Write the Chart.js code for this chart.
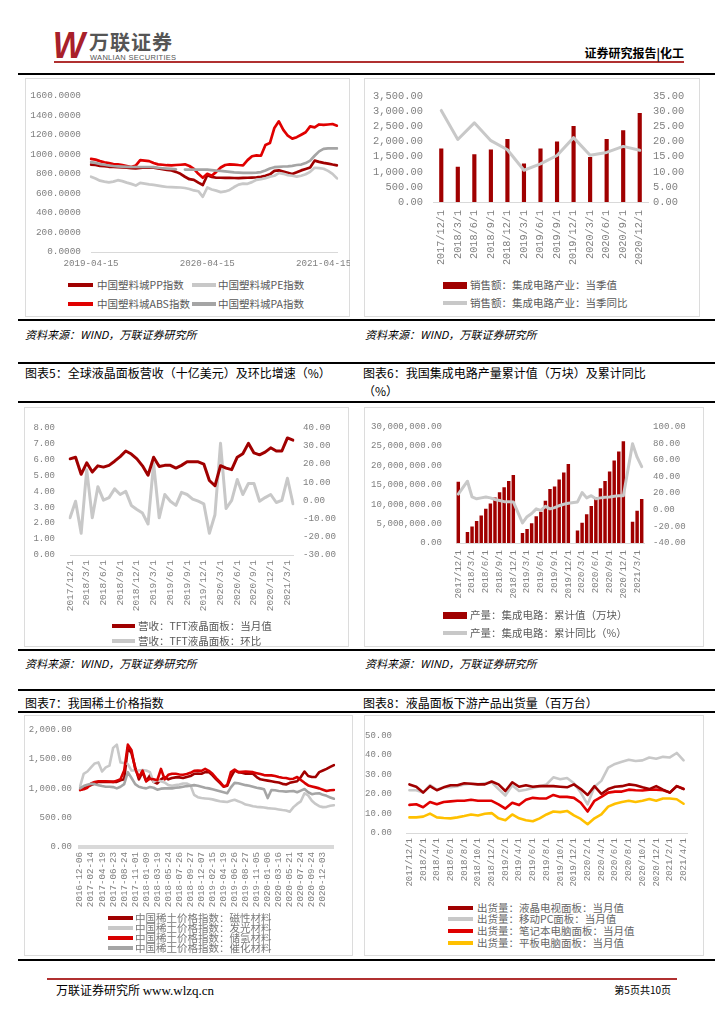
<!DOCTYPE html>
<html><head><meta charset="utf-8">
<script src="https://cdn.jsdelivr.net/npm/chart.js@4.4.1/dist/chart.umd.min.js"></script>
<style>
html,body{margin:0;padding:0;background:#fff;}
body{width:724px;height:1024px;position:relative;overflow:hidden;font-family:'Noto Sans CJK SC',sans-serif;}
.hl{position:absolute;left:18px;width:697px;height:2px;background:#000;}
.box{position:absolute;border:1px solid #dcdcdc;box-sizing:border-box;}
.cv{position:absolute;}
.title{position:absolute;font-size:12px;color:#000;line-height:18px;white-space:nowrap;}
.src{position:absolute;font-size:11px;font-style:italic;color:#000;white-space:nowrap;line-height:14px;}
.lg{position:absolute;font-size:10.5px;color:#595959;white-space:nowrap;line-height:12px;}
.sw{position:absolute;}
</style></head><body>

<!-- header -->
<div style="position:absolute;left:52px;top:28px;font-family:'Liberation Sans';font-weight:bold;font-style:italic;font-size:36px;color:#A8202A;line-height:36px;transform:scaleX(0.95);">W</div>
<div style="position:absolute;left:89px;top:30px;font-size:20px;font-weight:bold;color:#555;line-height:24px;letter-spacing:1px;">万联证券</div>
<div style="position:absolute;left:90px;top:54px;font-family:'Liberation Sans';font-size:7.5px;color:#555;line-height:8px;letter-spacing:0.3px;">WANLIAN SECURITIES</div>
<div style="position:absolute;left:54px;top:61px;width:630px;height:1.5px;background:#B03030;"></div>
<div style="position:absolute;right:40px;top:45px;font-size:12px;font-weight:bold;color:#000;line-height:16px;">证券研究报告|化工</div>

<div class="hl" style="top:73px;"></div>
<div class="box" style="left:25px;top:78px;width:325px;height:239px;"></div>
<div class="box" style="left:364px;top:78px;width:336px;height:239px;"></div>
<div class="hl" style="top:319px;"></div>
<div class="src" style="left:25px;top:327px;">资料来源：WIND，万联证券研究所</div>
<div class="src" style="left:365px;top:327px;">资料来源：WIND，万联证券研究所</div>

<div class="hl" style="top:362px;"></div>
<div class="title" style="left:25px;top:364px;">图表5：全球液晶面板营收（十亿美元）及环比增速（%）</div>
<div class="title" style="left:363px;top:364px;">图表6：我国集成电路产量累计值（万块）及累计同比<br>（%）</div>
<div class="hl" style="top:401px;"></div>
<div class="box" style="left:24px;top:407px;width:325px;height:240px;"></div>
<div class="box" style="left:364px;top:407px;width:340px;height:240px;"></div>
<div class="hl" style="top:649px;"></div>
<div class="src" style="left:25px;top:656px;">资料来源：WIND，万联证券研究所</div>
<div class="src" style="left:365px;top:656px;">资料来源：WIND，万联证券研究所</div>

<div class="hl" style="top:689px;"></div>
<div class="title" style="left:25px;top:694px;">图表7：我国稀土价格指数</div>
<div class="title" style="left:363px;top:694px;">图表8：液晶面板下游产品出货量（百万台）</div>
<div class="hl" style="top:711px;"></div>
<div class="box" style="left:24px;top:715px;width:329px;height:241px;"></div>
<div class="box" style="left:364px;top:715px;width:340px;height:241px;"></div>
<div class="hl" style="top:959px;"></div>

<!-- footer -->
<div style="position:absolute;left:47px;top:978px;width:630px;height:2px;background:#B03030;"></div>
<div style="position:absolute;left:56px;top:982px;font-size:12px;color:#000;line-height:16px;">万联证券研究所 <span style="font-family:'Liberation Serif';font-size:13px;">www.wlzq.cn</span></div>
<div style="position:absolute;right:53px;top:983px;font-size:10px;color:#000;line-height:14px;">第5页共10页</div>

<div class="cv" style="left:25px;top:80px;width:325px;height:195px;"><canvas id="c1"></canvas></div>
<div class="cv" style="left:365px;top:80px;width:334px;height:195px;"><canvas id="c2"></canvas></div>
<div class="cv" style="left:25px;top:407px;width:325px;height:213px;"><canvas id="c5"></canvas></div>
<div class="cv" style="left:365px;top:407px;width:338px;height:198px;"><canvas id="c6"></canvas></div>
<div class="cv" style="left:25px;top:716px;width:325px;height:196px;"><canvas id="c7"></canvas></div>
<div class="cv" style="left:365px;top:716px;width:338px;height:184px;"><canvas id="c8"></canvas></div>

<script>
// ---------- DATA ----------
// Chart 1: 中国塑料城指数 (bi-weekly samples from 2019-04-15)
const c1TickIdx = [0, 26, 52];
const c1TickLabels = ['2019-04-15', '2020-04-15', '2021-04-15'];
const c1PP = [895,890,880,878,872,870,868,865,862,858,855,860,865,863,862,855,848,840,835,820,800,770,745,738,710,685,785,768,760,760,758,760,757,755,758,760,762,765,770,780,795,830,835,822,810,797,815,835,850,865,935,922,912,905,895,887];
const c1PE = [770,752,730,720,712,720,735,725,710,697,680,708,700,692,687,680,672,665,663,661,660,655,645,630,622,565,660,640,628,613,620,635,665,690,700,698,715,738,745,755,770,780,808,800,787,780,772,780,795,820,862,858,852,830,800,753];
const c1ABS = [953,945,930,918,910,900,897,890,880,870,885,940,935,930,910,897,893,888,887,890,893,897,880,850,800,760,800,780,820,865,890,897,895,890,887,940,980,988,985,1095,1115,1270,1337,1250,1190,1160,1175,1200,1225,1285,1275,1305,1300,1305,1310,1293];
const c1PA = [920,912,900,893,885,880,877,874,872,870,870,870,870,870,868,862,857,853,850,847,null,843,843,843,843,843,843,838,833,830,825,820,815,813,810,810,810,812,818,835,855,868,872,875,877,882,890,895,910,935,985,1030,1055,1060,1060,1060];
const c1Names = ['中国塑料城PP指数','中国塑料城PE指数','中国塑料城ABS指数','中国塑料城PA指数'];

// Chart 2: 集成电路产业销售额
const c2Cats = ['2017/12/1','2018/3/1','2018/6/1','2018/9/1','2018/12/1','2019/3/1','2019/6/1','2019/9/1','2019/12/1','2020/3/1','2020/6/1','2020/9/1','2020/12/1'];
const c2Sales = [1760,1155,1570,1730,2070,1260,1760,1995,2505,1475,2070,2365,2938];
const c2Yoy = [30.3,20.7,26.2,20.3,17.3,10.5,12.6,15.4,21.3,15.5,16.4,18.4,17.1];

// Monthly categories 2017/12 – 2021/4
const monthCats = ['2017/12/1','2018/1/1','2018/2/1','2018/3/1','2018/4/1','2018/5/1','2018/6/1','2018/7/1','2018/8/1','2018/9/1','2018/10/1','2018/11/1','2018/12/1','2019/1/1','2019/2/1','2019/3/1','2019/4/1','2019/5/1','2019/6/1','2019/7/1','2019/8/1','2019/9/1','2019/10/1','2019/11/1','2019/12/1','2020/1/1','2020/2/1','2020/3/1','2020/4/1','2020/5/1','2020/6/1','2020/7/1','2020/8/1','2020/9/1','2020/10/1','2020/11/1','2020/12/1','2021/1/1','2021/2/1','2021/3/1','2021/4/1'];
const qTicks = ['2017/12/1','2018/3/1','2018/6/1','2018/9/1','2018/12/1','2019/3/1','2019/6/1','2019/9/1','2019/12/1','2020/3/1','2020/6/1','2020/9/1','2020/12/1','2021/3/1'];
const bTicks = ['2017/12/1','2018/2/1','2018/4/1','2018/6/1','2018/8/1','2018/10/1','2018/12/1','2019/2/1','2019/4/1','2019/6/1','2019/8/1','2019/10/1','2019/12/1','2020/2/1','2020/4/1','2020/6/1','2020/8/1','2020/10/1','2020/12/1','2021/2/1','2021/4/1'];

// Chart 5: TFT液晶面板营收
const c5Rev = [6.03,6.13,5.06,5.78,5.2,5.59,5.51,5.62,5.88,6.17,6.52,6.33,6.03,5.59,5.0,6.13,5.55,5.62,5.62,5.45,5.62,5.84,5.84,5.84,5.70,4.67,4.34,5.6,5.45,5.35,6.13,6.35,7.0,6.4,6.28,6.45,6.72,6.52,6.52,7.34,7.2];
const c5Mom = [-9.6,-0.5,-18.1,16.8,-9.6,7.5,0.1,1.5,6.3,3.2,4.9,-2.8,-5,-7,-13,20.2,-9.6,3.2,-0.5,-2.8,4.4,3.2,0.7,-0.5,-1.9,-18.1,-7.9,31.3,-4.5,0,11.4,3.2,9.2,9.2,-0.5,1.5,3.2,-1.2,0,12.1,-1.9];

// Chart 6: 集成电路产量累计值 / 累计同比
const c6Cum = [15650000,null,2740000,4190000,5560000,7020000,8710000,10080000,11610000,12980000,14270000,15890000,17420000,null,2500000,3550000,5000000,6770000,7980000,10800000,13790000,14440000,16290000,18060000,20240000,null,3150000,5160000,7340000,9440000,11770000,14030000,15890000,18310000,21130000,23470000,26130000,null,5400000,8230000,11210000];
const c6Yoy = [18.7,null,34.2,15.3,13.1,14.2,15.3,14.2,12.3,11.1,9.7,9.7,9.3,null,-15.9,-8.4,-4.6,1.0,-0.9,4.0,1.0,2.5,4.8,6.6,7.8,null,9.3,20.6,14.2,16.8,13.1,14.2,15.0,15.3,16.1,16.8,16.8,null,79.3,63.1,51.8];

// Chart 7: 中国稀土价格指数 (sampled, 3 points per tick interval)
const c7TickLabels = ['2016-12-06','2017-02-14','2017-04-19','2017-06-23','2017-08-24','2017-11-01','2018-01-09','2018-03-19','2018-05-24','2018-07-26','2018-09-27','2018-12-07','2019-02-15','2019-04-19','2019-06-26','2019-08-27','2019-11-05','2020-01-06','2020-03-16','2020-05-21','2020-07-24','2020-09-24','2020-12-03'];
const c7Mag = [970,997,1025,1052,1080,1107,1107,1107,1107,1107,1107,1135,1151,1686,1592,1355,1151,1273,1118,1218,1107,1080,1151,1190,1151,1173,1184,1184,1173,1190,1207,1245,1251,1245,1273,1273,1218,1151,1091,1025,1041,1190,1300,1273,1262,1245,1245,1245,1190,1151,1140,1129,1118,1107,1096,1074,1063,1091,1107,1118,1190,1284,1207,1190,1190,1273,1300,1328,1361,1394];
const c7Lum = [1025,1245,1284,1355,1421,1438,1284,1355,1383,1686,1741,1438,1427,1410,1300,1300,1300,1311,1300,1273,1107,1135,1118,1096,1052,1041,1052,1063,1080,1080,1052,887,848,832,826,821,810,793,777,771,766,788,804,777,755,722,711,694,683,678,672,661,656,650,639,628,622,600,678,733,777,914,876,788,733,694,678,683,700,711];
const c7Hyd = [970,981,1008,1080,1107,1118,1118,1118,1113,1107,1129,1151,1300,1741,1647,1328,1190,1300,1118,1162,1151,1135,1328,1151,1229,1245,1245,1234,1229,1240,1262,1295,1300,1295,1328,1295,1245,1173,1107,1030,1052,1273,1317,1273,1278,1284,1278,1273,1256,1240,1223,1218,1218,1207,1190,1179,1173,1157,1162,1190,1140,1091,1047,1030,1014,997,975,953,964,970];
const c7Cat = [997,1036,1058,1074,1069,1052,1036,1025,1025,1019,997,1025,1069,1273,1173,1069,1025,1008,997,1019,1008,975,992,997,997,997,1008,1014,1025,1036,1041,1052,1041,1025,1008,997,981,964,948,931,914,1014,1091,1085,1069,1052,1041,1025,1008,997,981,832,970,964,953,948,942,948,953,931,959,986,931,898,909,914,887,870,843,821];
const c7Names = ['中国稀土价格指数：磁性材料','中国稀土价格指数：发光材料','中国稀土价格指数：储氢材料','中国稀土价格指数：催化材料'];

// Chart 8: 液晶面板下游产品出货量
const c8TV  = [24.9,23.7,20.7,24.0,21.9,23.4,24.5,24.5,25.5,25.2,24.9,24.9,26.4,24.9,21.5,26.0,23.7,24.5,23.7,24.0,24.0,24.0,23.7,23.4,24.9,22.5,19.5,24.0,20.0,22.5,23.7,24.0,24.9,24.5,23.4,22.5,24.0,22.2,20.7,24.0,22.5];
const c8PC  = [21.9,21.9,20.7,24.5,22.2,23.4,23.4,24.0,24.9,25.2,24.9,25.5,26.0,22.5,19.2,24.5,21.5,22.2,23.0,24.0,24.9,28.5,27.5,28.2,25.5,20.7,14.7,23.7,26.7,33.5,35.4,36.5,37.5,36.9,37.2,38.7,38.0,39.0,38.7,41.0,37.2];
const c8NB  = [14.4,14.7,13.2,15.9,14.7,15.9,16.2,16.5,16.5,17.0,16.5,16.5,16.5,14.7,12.5,15.5,14.3,17.0,18.0,17.7,17.7,19.5,18.5,18.5,18.0,15.5,11.0,16.5,18.5,20.7,21.2,21.2,22.2,21.9,21.8,22.2,22.2,21.9,20.7,24.0,22.7];
const c8Tab = [8.0,8.0,8.4,9.9,8.0,7.7,7.5,8.0,8.7,9.5,9.0,9.9,10.2,7.5,6.5,9.5,7.5,6.5,6.0,7.5,9.5,11.0,10.7,11.3,9.0,7.2,4.5,7.5,9.5,13.5,15.0,15.9,16.5,15.9,16.5,17.4,16.5,17.7,17.7,17.3,15.0];
const c8Names = ['出货量：液晶电视面板：当月值','出货量：移动PC面板：当月值','出货量：笔记本电脑面板：当月值','出货量：平板电脑面板：当月值'];

// ---------- STYLE ----------
const MONO = "'Liberation Mono', monospace";
const DRED = '#A00000', RED = '#E00000', LGRAY = '#C8C8C8', MGRAY = '#A5A5A5', YEL = '#FFC000';
const TICKC = '#808080';

function yAxis(o) {
  return {
    position: o.pos || 'left', min: o.min, max: o.max,
    grid: {display: false, drawTicks: false}, border: {display: false},
    ticks: {autoSkip: false, stepSize: o.step, padding: o.pad, color: TICKC, font: {size: o.fs, family: MONO}, callback: o.fmt},
    afterFit: s => { s.width = o.w; }
  };
}
function xAxis(o) {
  return {
    offset: o.offset,
    grid: {display: false, drawTicks: false},
    border: {display: true, color: o.bc || '#d9d9d9', width: o.bw || 1},
    ticks: {autoSkip: false, maxRotation: o.rot, minRotation: o.rot, padding: o.pad, color: TICKC,
            font: {size: o.fs, family: MONO}, callback: o.cb},
    afterFit: s => { s.height = o.h; }
  };
}
function lineDs(label, data, color, width, order, axis) {
  return {type: 'line', label, data, borderColor: color, backgroundColor: color, borderWidth: width,
          pointRadius: 0, tension: 0, fill: false, order, yAxisID: axis || 'y',
          borderJoinStyle: 'round', borderCapStyle: 'round'};
}
function common(pad, scales) {
  return {
    responsive: true, maintainAspectRatio: false, animation: false, devicePixelRatio: 1,
    layout: {padding: pad},
    plugins: {legend: {display: false}, tooltip: {enabled: false}},
    scales
  };
}
const fmt2c = v => v.toLocaleString('en-US', {minimumFractionDigits: 2, maximumFractionDigits: 2});
const fmt2 = v => v.toFixed(2);

// Chart 1
new Chart(document.getElementById('c1'), {
  type: 'line',
  data: {labels: c1PP.map((_, i) => i), datasets: [
    lineDs(c1Names[0], c1PP, DRED, 2.7, 4),
    lineDs(c1Names[1], c1PE, LGRAY, 2.7, 3),
    lineDs(c1Names[2], c1ABS, RED, 2.7, 2),
    lineDs(c1Names[3], c1PA, MGRAY, 2.7, 1)
  ]},
  options: common({top: 12, right: 13, left: 0, bottom: 0}, {
    x: xAxis({offset: false, h: 23, pad: 6, fs: 9.2, rot: 0,
      cb: (v, i) => { const k = c1TickIdx.indexOf(i); return k >= 0 ? c1TickLabels[k] : ''; }}),
    y: yAxis({min: 0, max: 1600, step: 200, pad: 10, fs: 9.4, w: 66, fmt: v => v.toFixed(4)})
  })
});

// Chart 2
new Chart(document.getElementById('c2'), {
  type: 'bar',
  data: {labels: c2Cats, datasets: [
    lineDs('销售额：集成电路产业：当季同比', c2Yoy, LGRAY, 3, 0, 'y1'),
    {type: 'bar', label: '销售额：集成电路产业：当季值', data: c2Sales, backgroundColor: DRED, barThickness: 3.5, order: 1, yAxisID: 'y'}
  ]},
  options: common({top: 12, right: 0, left: 0, bottom: 0}, {
    x: xAxis({offset: true, h: 73, pad: 8, fs: 10.2, rot: 90, cb: (v, i) => c2Cats[i]}),
    y: yAxis({min: 0, max: 3500, step: 500, pad: 10, fs: 10.4, w: 68, fmt: fmt2c}),
    y1: yAxis({pos: 'right', min: 0, max: 35, step: 5, pad: 5, fs: 10.4, w: 51, fmt: fmt2})
  })
});

// Chart 5
new Chart(document.getElementById('c5'), {
  type: 'line',
  data: {labels: monthCats, datasets: [
    lineDs('营收：TFT液晶面板：当月值', c5Rev, DRED, 3, 0, 'y'),
    lineDs('营收：TFT液晶面板：环比', c5Mom, LGRAY, 3, 1, 'y1')
  ]},
  options: common({top: 11, right: 0, left: 0, bottom: 0}, {
    x: xAxis({offset: false, h: 65, pad: 5, fs: 9.5, rot: 90,
      cb: (v, i) => qTicks.includes(monthCats[i]) ? monthCats[i] : ''}),
    y: yAxis({min: 0, max: 8, step: 1, pad: 15, fs: 9, w: 45, fmt: fmt2}),
    y1: yAxis({pos: 'right', min: -30, max: 40, step: 10, pad: 10, fs: 9.2, w: 57, fmt: fmt2})
  })
});

// Chart 6
new Chart(document.getElementById('c6'), {
  type: 'bar',
  data: {labels: monthCats, datasets: [
    Object.assign(lineDs('产量：集成电路：累计同比（%）', c6Yoy, LGRAY, 3, 0, 'y1'), {spanGaps: true}),
    {type: 'bar', label: '产量：集成电路：累计值（万块）', data: c6Cum, backgroundColor: DRED, barThickness: 2.8, order: 1, yAxisID: 'y'}
  ]},
  options: common({top: 12, right: 0, left: 0, bottom: 0}, {
    x: xAxis({offset: true, h: 62, pad: 7, fs: 9, rot: 90,
      cb: (v, i) => qTicks.includes(monthCats[i]) ? monthCats[i] : ''}),
    y: yAxis({min: 0, max: 30000000, step: 5000000, pad: 14, fs: 9.1, w: 91, fmt: fmt2c}),
    y1: yAxis({pos: 'right', min: -40, max: 100, step: 20, pad: 9, fs: 9.1, w: 59, fmt: fmt2})
  })
});

// Chart 7
new Chart(document.getElementById('c7'), {
  type: 'line',
  data: {labels: c7Mag.map((_, i) => i), datasets: [
    lineDs(c7Names[0], c7Mag, DRED, 2.6, 4),
    lineDs(c7Names[1], c7Lum, LGRAY, 2.6, 3),
    lineDs(c7Names[2], c7Hyd, '#D80000', 2.6, 2),
    lineDs(c7Names[3], c7Cat, MGRAY, 2.6, 1)
  ]},
  options: common({top: 10, right: 5.5, left: 0, bottom: 0}, {
    x: xAxis({offset: false, h: 65, pad: 5, fs: 9.2, rot: 90, bw: 4, bc: '#d9d9d9',
      cb: (v, i) => (i % 3 === 0 && c7TickLabels[i / 3]) ? c7TickLabels[i / 3] : ''}),
    y: yAxis({min: 0, max: 2000, step: 500, pad: 8, fs: 9, w: 55, fmt: fmt2c})
  })
});

// Chart 8
new Chart(document.getElementById('c8'), {
  type: 'line',
  data: {labels: monthCats, datasets: [
    lineDs(c8Names[0], c8TV, DRED, 2.6, 1),
    lineDs(c8Names[1], c8PC, LGRAY, 2.6, 2),
    lineDs(c8Names[2], c8NB, RED, 2.6, 3),
    lineDs(c8Names[3], c8Tab, YEL, 2.6, 4)
  ]},
  options: common({top: 6, right: 16, left: 0, bottom: 0}, {
    x: xAxis({offset: true, h: 67, pad: 5, fs: 9, rot: 90,
      cb: (v, i) => bTicks.includes(monthCats[i]) ? monthCats[i] : ''}),
    y: yAxis({min: 0, max: 50, step: 10, pad: 14, fs: 9, w: 41, fmt: fmt2})
  })
});

// ---------- LEGENDS (HTML) ----------
function leg(sx, sw, yc, color, kind, text, tx, fs, extra) {
  const s = document.createElement('div');
  s.className = 'sw';
  const h = kind === 'bar' ? 7 : 4;
  s.style.cssText = `left:${sx}px;top:${yc - h / 2}px;width:${sw}px;height:${h}px;background:${color};`;
  document.body.appendChild(s);
  const t = document.createElement('div');
  t.className = 'lg';
  t.textContent = text;
  t.style.cssText = `left:${tx}px;top:${yc - 6}px;font-size:${fs}px;${extra || ''}`;
  document.body.appendChild(t);
}
leg(68, 25, 285, DRED, 'line', c1Names[0], 97, 10.5);
leg(192, 24, 285, LGRAY, 'line', c1Names[1], 218, 10.5);
leg(68, 25, 304, RED, 'line', c1Names[2], 97, 10.5);
leg(192, 24, 304, MGRAY, 'line', c1Names[3], 218, 10.5);

leg(443, 24, 285, DRED, 'bar', '销售额：集成电路产业：当季值', 470, 10.5);
leg(443, 24, 303, LGRAY, 'line', '销售额：集成电路产业：当季同比', 470, 10.5);

leg(112, 23, 626, DRED, 'line', '营收：TFT液晶面板：当月值', 138, 10.5);
leg(112, 23, 641, LGRAY, 'line', '营收：TFT液晶面板：环比', 138, 10.5);

leg(443, 24, 615, DRED, 'bar', '产量：集成电路：累计值（万块）', 470, 10.5);
leg(443, 24, 633, LGRAY, 'line', '产量：集成电路：累计同比（%）', 470, 10.5);

leg(108, 25, 918, DRED, 'line', c7Names[0], 135, 10.5, 'color:#777;');
leg(108, 25, 928, LGRAY, 'line', c7Names[1], 135, 10.5, 'color:#777;');
leg(108, 25, 938, '#D80000', 'line', c7Names[2], 135, 10.5, 'color:#777;');
leg(108, 25, 948, MGRAY, 'line', c7Names[3], 135, 10.5, 'color:#777;');

leg(448, 25, 908, DRED, 'line', c8Names[0], 477, 10.5, 'color:#666;');
leg(448, 25, 919, LGRAY, 'line', c8Names[1], 477, 10.5, 'color:#666;');
leg(448, 25, 931, RED, 'line', c8Names[2], 477, 10.5, 'color:#666;');
leg(448, 25, 943, YEL, 'line', c8Names[3], 477, 10.5, 'color:#666;');
</script>
</body></html>
